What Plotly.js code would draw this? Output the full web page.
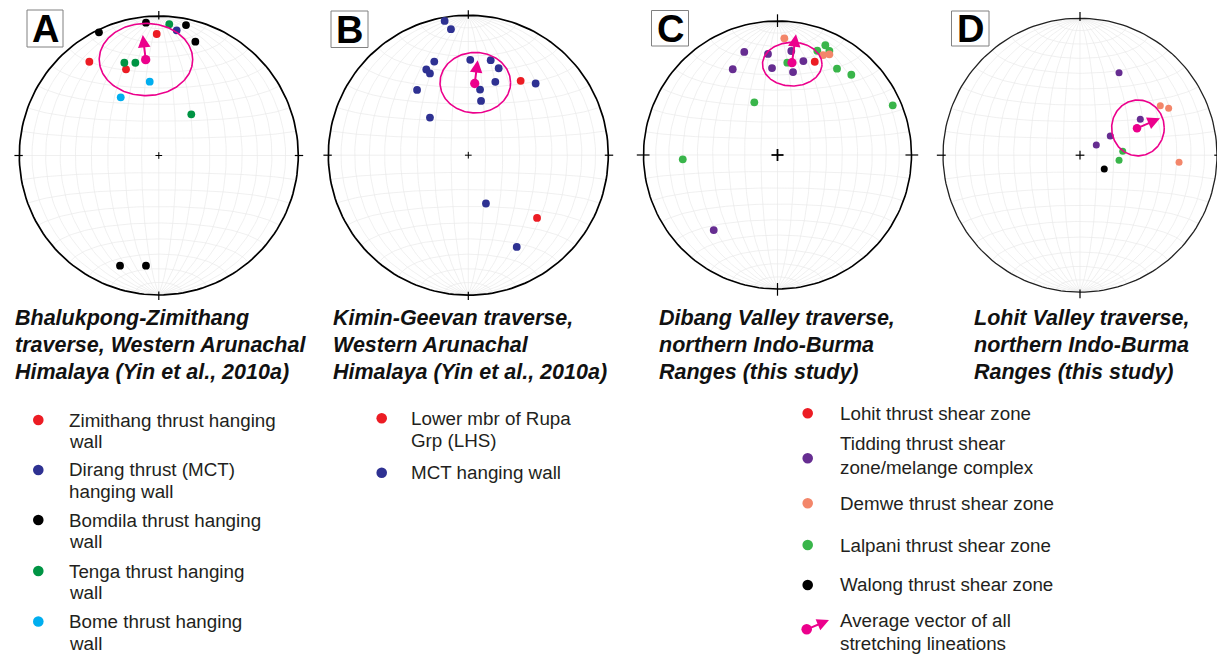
<!DOCTYPE html>
<html><head><meta charset="utf-8">
<script src="https://cdn.plot.ly/plotly-3.0.1.min.js"></script>
<style>html,body{margin:0;padding:0;background:#fff}#chart{width:1217px;height:654px}</style>
</head><body><div id="chart"></div>
<script>
// ===== DATA: lineation positions on lower-hemisphere equal-area nets (x = east, y = north, unit radius) =====
// Net A: Bhalukpong-Zimithang traverse
const A_zimithang_x = [-0.015, -0.498, -0.235];
const A_zimithang_y = [0.871, 0.672, 0.618];
const A_dirang_x = [0.128];
const A_dirang_y = [0.897];
const A_bomdila_x = [-0.429, -0.092, 0.195, 0.262, -0.278, -0.092];
const A_bomdila_y = [0.883, 0.952, 0.935, 0.816, -0.790, -0.790];
const A_tenga_x = [0.075, -0.247, -0.168, 0.233];
const A_tenga_y = [0.941, 0.665, 0.665, 0.295];
const A_bome_x = [-0.065, -0.273];
const A_bome_y = [0.529, 0.417];
const A_mean = [-0.094, 0.687];
const A_vectorTip = [-0.115, 0.864];
const A_confidence = [-0.092, 0.688, 0.335, 0.259]; // centre x, centre y, semi-axis x, semi-axis y

// Net B: Kimin-Geevan traverse
const B_rupa_x = [0.374, 0.491];
const B_rupa_y = [0.531, -0.448];
const B_mct_x = [-0.169, -0.124, -0.243, -0.300, -0.274, -0.366, -0.274, 0.014, 0.160, 0.217, 0.193, 0.084, 0.091, 0.481, 0.126, 0.346];
const B_mct_y = [0.959, 0.900, 0.669, 0.612, 0.584, 0.466, 0.269, 0.681, 0.679, 0.621, 0.524, 0.469, 0.388, 0.512, -0.345, -0.655];
const B_mean = [0.046, 0.512];
const B_vectorTip = [0.067, 0.679];
const B_confidence = [0.050, 0.518, 0.252, 0.216];

// Net C: Dibang Valley traverse
const C_tidding_x = [-0.248, -0.334, -0.071, 0.103, -0.041, 0.193, 0.116, -0.476];
const C_tidding_y = [0.769, 0.640, 0.754, 0.776, 0.649, 0.701, 0.619, -0.560];
const C_lalpani_x = [0.357, 0.297, 0.387, 0.073, 0.444, 0.551, -0.173, 0.860, -0.707];
const C_lalpani_y = [0.819, 0.778, 0.776, 0.689, 0.644, 0.599, 0.393, 0.371, -0.032];
const C_demwe_x = [0.051, 0.340, 0.387];
const C_demwe_y = [0.871, 0.746, 0.751];
const C_lohit_x = [0.278];
const C_lohit_y = [0.696];
const C_mean = [0.108, 0.689];
const C_vectorTip = [0.138, 0.901];
const C_confidence = [0.110, 0.678, 0.222, 0.163];

// Net D: Lohit Valley traverse
const D_tidding_x = [0.285, 0.440, 0.221, 0.119];
const D_tidding_y = [0.602, 0.262, 0.140, 0.074];
const D_demwe_x = [0.586, 0.647, 0.723];
const D_demwe_y = [0.361, 0.342, -0.052];
const D_lalpani_x = [0.312, 0.285];
const D_lalpani_y = [0.028, -0.037];
const D_walong_x = [0.177];
const D_walong_y = [-0.101];
const D_mean = [0.416, 0.196];
const D_vectorTip = [0.584, 0.269];
const D_confidence = [0.423, 0.199, 0.192, 0.204];

// Panel letters and captions
const panelLetters = ["A", "B", "C", "D"];
const panelCaptions = [
  ["Bhalukpong-Zimithang", "traverse, Western Arunachal", "Himalaya (Yin et al., 2010a)"],
  ["Kimin-Geevan traverse,", "Western Arunachal", "Himalaya (Yin et al., 2010a)"],
  ["Dibang Valley traverse,", "northern Indo-Burma", "Ranges (this study)"],
  ["Lohit Valley traverse,", "northern Indo-Burma", "Ranges (this study)"]
];
// Legend labels
const legendA_labels = [["Zimithang thrust hanging", "wall"], ["Dirang thrust (MCT)", "hanging wall"], ["Bomdila thrust hanging", "wall"], ["Tenga thrust hanging", "wall"], ["Bome thrust hanging", "wall"]];
const legendB_labels = [["Lower mbr of Rupa", "Grp (LHS)"], ["MCT hanging wall"]];
const legendC_labels = [["Lohit thrust shear zone"], ["Tidding thrust shear", "zone/melange complex"], ["Demwe thrust shear zone"], ["Lalpani thrust shear zone"], ["Walong thrust shear zone"]];
const legendVector_label = ["Average vector of all", "stretching lineations"];

// ===== STYLE =====
const COL = {
  red: "#ec1c24", navy: "#2e3192", black: "#000000", tenga: "#009444", bome: "#00aeef",
  purple: "#662d91", salmon: "#f3866a", lalpani: "#39b54a", mag: "#ec008c"
};
const legendA_colors = [COL.red, COL.navy, COL.black, COL.tenga, COL.bome];
const legendB_colors = [COL.red, COL.navy];
const legendC_colors = [COL.red, COL.purple, COL.salmon, COL.lalpani, COL.black];

const W = 1217, H = 654;
const FONT = "Liberation Sans, Arial, Helvetica, sans-serif";

const NETS = [
  {cx: 158.8, cy: 155.5, R: 139.5, box: [0, 316, 0, 306], tick: [0.975, 1.035], cross: 0.024, crossW: 1, circW: 1.7, dot: 7.8,
   label: [27, 63, 10, 47],
   series: [[A_zimithang_x, A_zimithang_y, COL.red], [A_dirang_x, A_dirang_y, COL.navy], [A_bomdila_x, A_bomdila_y, COL.black],
            [A_tenga_x, A_tenga_y, COL.tenga], [A_bome_x, A_bome_y, COL.bome]],
   mean: A_mean, tip: A_vectorTip, conf: A_confidence, capX: 13},
  {cx: 468.3, cy: 155.2, R: 140, box: [316, 623, 0, 306], tick: [0.975, 1.035], cross: 0.024, crossW: 1, circW: 1.7, dot: 7.8,
   label: [331, 368, 11, 47.5],
   series: [[B_mct_x, B_mct_y, COL.navy], [B_rupa_x, B_rupa_y, COL.red]],
   mean: B_mean, tip: B_vectorTip, conf: B_confidence, capX: 331},
  {cx: 777.5, cy: 155, R: 134, box: [623, 928, 0, 306], tick: [0.955, 1.05], cross: 0.045, crossW: 1.8, circW: 1.6, dot: 7.8,
   label: [651.5, 688.5, 10.5, 46],
   series: [[C_tidding_x, C_tidding_y, COL.purple], [C_lalpani_x, C_lalpani_y, COL.lalpani], [C_demwe_x, C_demwe_y, COL.salmon],
            [C_lohit_x, C_lohit_y, COL.red]],
   mean: C_mean, tip: C_vectorTip, conf: C_confidence, capX: 657},
  {cx: 1080, cy: 155.2, R: 137, box: [928, 1217, 0, 306], tick: [0.98, 1.045], cross: 0.032, crossW: 1.2, circW: 1.3, dot: 7,
   label: [951.5, 989, 11, 46],
   series: [[D_tidding_x, D_tidding_y, COL.purple], [D_demwe_x, D_demwe_y, COL.salmon], [D_lalpani_x, D_lalpani_y, COL.lalpani],
            [D_walong_x, D_walong_y, COL.black]],
   mean: D_mean, tip: D_vectorTip, conf: D_confidence, capX: 972}
];

// ===== GEOMETRY HELPERS (net grid) =====
function proj(e, n, d) { const k = 1 / Math.sqrt(1 + d); return [e * k, n * k]; }
function buildGrid() {
  const gx = [], gy = [], step = 2, rad = Math.PI / 180;
  const push = p => { gx.push(p[0]); gy.push(p[1]); };
  for (let dip = 10; dip <= 90; dip += 10) {
    for (const s of [1, -1]) {
      if (dip === 90 && s === -1) continue;
      for (let t = 0; t <= 180; t += step) {
        const tr = t * rad, dr = dip * rad;
        push(proj(s * Math.sin(tr) * Math.cos(dr), Math.cos(tr), Math.sin(tr) * Math.sin(dr)));
      }
      gx.push(null); gy.push(null);
    }
  }
  for (let a = 10; a < 180; a += 10) {
    for (let f = 0; f <= 180; f += step) {
      const ar = a * rad, fr = f * rad;
      push(proj(Math.sin(ar) * Math.cos(fr), Math.cos(ar), Math.sin(ar) * Math.sin(fr)));
    }
    gx.push(null); gy.push(null);
  }
  return [gx, gy];
}
const GRID = buildGrid();
function circle(cx, cy, rx, ry) {
  const x = [], y = [];
  for (let i = 0; i <= 180; i++) { const t = i * 2 * Math.PI / 180; x.push(cx + rx * Math.cos(t)); y.push(cy + ry * Math.sin(t)); }
  return [x, y];
}

// ===== BUILD FIGURE =====
const traces = [], annotations = [], shapes = [];
const layout = {
  width: W, height: H, autosize: false, margin: {l: 0, r: 0, t: 0, b: 0},
  paper_bgcolor: "#ffffff", plot_bgcolor: "rgba(0,0,0,0)", showlegend: false, hovermode: false,
  font: {family: FONT, color: "#231f20"}
};

NETS.forEach((net, i) => {
  const s = i === 0 ? "" : String(i + 1);
  const xa = "x" + s, ya = "y" + s;
  const [x0, x1, y0, y1] = net.box;
  layout["xaxis" + s] = {domain: [x0 / W, x1 / W], range: [(x0 - net.cx) / net.R, (x1 - net.cx) / net.R],
    visible: false, fixedrange: true, anchor: ya};
  layout["yaxis" + s] = {domain: [1 - y1 / H, 1 - y0 / H], range: [(net.cy - y1) / net.R, (net.cy - y0) / net.R],
    visible: false, fixedrange: true, anchor: xa};
  const base = {xaxis: xa, yaxis: ya, hoverinfo: "skip"};
  // grid
  traces.push(Object.assign({type: "scatter", mode: "lines", x: GRID[0], y: GRID[1],
    line: {color: "#e9e9e9", width: 0.7}}, base));
  // primitive
  const prim = circle(0, 0, 1, 1);
  traces.push(Object.assign({type: "scatter", mode: "lines", x: prim[0], y: prim[1],
    line: {color: i === 3 ? "#222" : "#000", width: net.circW}}, base));
  // ticks and centre cross
  const tx = [], ty = [];
  const [r0, r1] = net.tick, c = net.cross;
  tx.push(0, 0, null, 0, 0, null, r0, r1, null, -r0, -r1, null);
  ty.push(r0, r1, null, -r0, -r1, null, 0, 0, null, 0, 0, null);
  traces.push(Object.assign({type: "scatter", mode: "lines", x: tx, y: ty, line: {color: "#000", width: 1.2}}, base));
  traces.push(Object.assign({type: "scatter", mode: "lines", x: [-c, c, null, 0, 0], y: [0, 0, null, -c, c],
    line: {color: "#000", width: net.crossW}}, base));
  // data points
  net.series.forEach(([sx, sy, col]) => {
    traces.push(Object.assign({type: "scatter", mode: "markers", x: sx, y: sy,
      marker: {color: col, size: net.dot, line: {width: 0}}}, base));
  });
  // confidence ellipse
  const el = circle(net.conf[0], net.conf[1], net.conf[2], net.conf[3]);
  traces.push(Object.assign({type: "scatter", mode: "lines", x: el[0], y: el[1], line: {color: COL.mag, width: 1.6}}, base));
  // mean
  traces.push(Object.assign({type: "scatter", mode: "markers", x: [net.mean[0]], y: [net.mean[1]],
    marker: {color: COL.mag, size: net.dot + 1.5, line: {width: 0}}}, base));
  // mean vector arrow
  annotations.push({xref: xa, yref: ya, axref: xa, ayref: ya, x: net.tip[0], y: net.tip[1], ax: net.mean[0], ay: net.mean[1],
    text: "", showarrow: true, arrowhead: 2, arrowsize: 1.25, arrowwidth: 2, arrowcolor: COL.mag, standoff: 0});
  // panel letter box
  const [lx0, lx1, ly0, ly1] = net.label;
  shapes.push({type: "rect", xref: "paper", yref: "paper", x0: lx0 / W, x1: lx1 / W, y0: 1 - ly1 / H, y1: 1 - ly0 / H,
    line: {color: "#808080", width: 1}, fillcolor: "rgba(0,0,0,0)"});
  annotations.push({xref: "paper", yref: "paper", x: (lx0 + lx1) / 2 / W, y: 1 - ((ly0 + ly1) / 2 + 1) / H,
    xanchor: "center", yanchor: "middle", showarrow: false, text: "<b>" + panelLetters[i] + "</b>",
    font: {family: FONT, size: 38, color: "#000"}});
  // caption
  const capY = [318, 345, 371.5];
  panelCaptions[i].forEach((line, k) => {
    annotations.push({xref: "paper", yref: "paper", x: net.capX / W, y: 1 - capY[k] / H, xanchor: "left", yanchor: "middle",
      showarrow: false, text: "<b><i>" + line + "</i></b>", font: {family: FONT, size: 21.5, color: "#111"}});
  });
});

// ===== LEGENDS =====
function legendDot(x, y, r, col) {
  shapes.push({type: "circle", xref: "paper", yref: "paper", x0: (x - r) / W, x1: (x + r) / W, y0: 1 - (y + r) / H, y1: 1 - (y - r) / H,
    fillcolor: col, line: {width: 0}});
}
function legendText(x, y, txt) {
  annotations.push({xref: "paper", yref: "paper", x: x / W, y: 1 - y / H, xanchor: "left", yanchor: "middle", showarrow: false,
    text: txt, font: {family: FONT, size: 18.8, color: "#231f20"}});
}
function buildLegend(labels, colors, dotX, textX, dotYs, lineYs) {
  labels.forEach((lines, i) => {
    legendDot(dotX, dotYs[i], 5.3, colors[i]);
    lines.forEach((t, k) => legendText(textX, lineYs[i][k], t));
  });
}
buildLegend(legendA_labels, legendA_colors, 38.3, 67, [420, 470, 520, 571, 621.5],
  [[420, 441.7], [470, 491.7], [520, 541.7], [571, 592.7], [621.5, 643.2]]);
buildLegend(legendB_labels, legendB_colors, 381.7, 409, [418.3, 472.7], [[418.3, 440], [472.7]]);
buildLegend(legendC_labels, legendC_colors, 807.7, 838, [413.3, 458.3, 503.3, 545, 585],
  [[413.3], [443.3, 467.3], [503.3], [545], [584.5]]);
legendDot(806.7, 629.3, 5.3, COL.mag);
annotations.push({xref: "paper", yref: "paper", x: 829 / W, y: 1 - 620 / H, ax: -22, ay: 9.3, text: "", showarrow: true,
  arrowhead: 2, arrowsize: 1.2, arrowwidth: 2, arrowcolor: COL.mag, standoff: 0});
legendVector_label.forEach((t, k) => legendText(838, [620, 643.3][k], t));

layout.annotations = annotations;
layout.shapes = shapes;
Plotly.newPlot("chart", traces, layout, {staticPlot: true, displayModeBar: false});
</script></body></html>
